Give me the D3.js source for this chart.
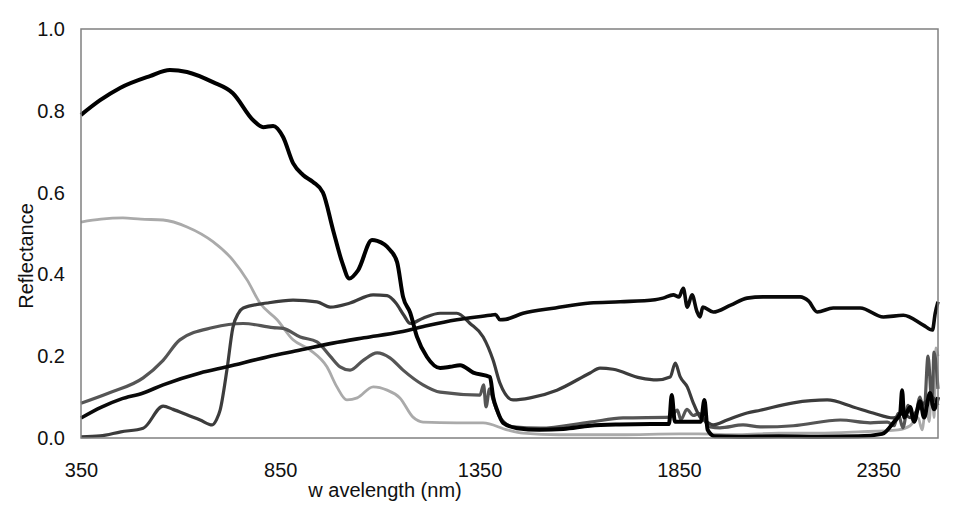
<!DOCTYPE html>
<html lang="en">
<head>
    <meta charset="UTF-8">
    <title>Reflectance spectra</title>
    <style>
      body { margin: 0; background: #fff; }
      text { font-family: "Liberation Sans", Arial, sans-serif; fill: #111; }
    </style>
</head>
<body>
    <svg></svg>
    <script src="https://d3js.org/d3.v7.min.js"></script>
    <script>
    // wavelength (nm), reflectance pairs
    const snow = [
      [350,0.79],[398,0.826],[448,0.856],[523,0.885],[573,0.90],[616,0.895],[681,0.87],[731,0.843],
      [782,0.777],[807,0.76],[832,0.763],[857,0.736],[882,0.672],[907,0.643],[932,0.626],[957,0.60],
      [982,0.51],[1005,0.43],[1023,0.39],[1045,0.41],[1080,0.484],[1093,0.482],[1125,0.46],[1143,0.43],
      [1158,0.345],[1176,0.306],[1193,0.247],[1218,0.198],[1251,0.171],[1276,0.174],[1301,0.178],
      [1334,0.16],[1376,0.149],[1384,0.10],[1394,0.068],[1409,0.037],[1444,0.024],[1500,0.02],
      [1560,0.022],[1627,0.03],[1700,0.033],[1780,0.034],[1825,0.034],[1832,0.105],[1840,0.04],
      [1905,0.04],[1914,0.093],[1922,0.02],[1940,0.004],[2000,0.003],[2100,0.004],[2200,0.003],
      [2300,0.004],[2360,0.01],[2390,0.04],[2405,0.06],[2410,0.117],[2415,0.05],[2430,0.076],
      [2440,0.04],[2455,0.09],[2465,0.05],[2480,0.11],[2490,0.07],[2500,0.1]
    ];
    const soil = [
      [350,0.049],[400,0.075],[450,0.095],[506,0.11],[556,0.13],[649,0.159],[716,0.174],[817,0.198],
      [900,0.215],[982,0.232],[1060,0.245],[1150,0.259],[1220,0.275],[1293,0.289],[1376,0.30],
      [1390,0.302],[1401,0.289],[1415,0.29],[1459,0.305],[1540,0.318],[1627,0.33],[1703,0.333],
      [1790,0.338],[1810,0.342],[1836,0.35],[1850,0.345],[1861,0.366],[1871,0.32],[1883,0.35],
      [1895,0.31],[1903,0.296],[1910,0.32],[1936,0.308],[1980,0.325],[2021,0.342],[2061,0.345],
      [2154,0.345],[2175,0.335],[2197,0.308],[2237,0.318],[2305,0.318],[2363,0.296],[2413,0.30],
      [2463,0.276],[2486,0.264],[2493,0.305],[2500,0.333]
    ];
    const lightGray = [
      [350,0.528],[400,0.535],[455,0.538],[500,0.535],[556,0.533],[616,0.516],[681,0.48],[731,0.435],
      [767,0.386],[799,0.33],[842,0.289],[882,0.24],[925,0.215],[967,0.174],[992,0.125],[1017,0.093],
      [1043,0.098],[1083,0.125],[1118,0.117],[1150,0.098],[1183,0.051],[1208,0.039],[1293,0.037],
      [1359,0.037],[1419,0.02],[1459,0.012],[1550,0.008],[1700,0.008],[1850,0.01],[1900,0.01],
      [2000,0.008],[2100,0.012],[2200,0.012],[2300,0.015],[2400,0.02],[2430,0.03],[2450,0.05],
      [2460,0.02],[2470,0.08],[2478,0.04],[2485,0.15],[2490,0.05],[2495,0.22],[2500,0.2]
    ];
    const darkGray = [
      [350,0.085],[420,0.11],[506,0.147],[556,0.19],[598,0.24],[681,0.27],[757,0.28],[832,0.27],
      [857,0.268],[900,0.247],[942,0.235],[975,0.2],[1000,0.174],[1025,0.166],[1058,0.19],[1093,0.208],
      [1125,0.196],[1158,0.166],[1208,0.13],[1251,0.112],[1351,0.105],[1360,0.13],[1366,0.076],
      [1375,0.12],[1384,0.093],[1401,0.051],[1434,0.027],[1502,0.024],[1627,0.039],[1710,0.049],
      [1828,0.051],[1846,0.068],[1855,0.045],[1870,0.07],[1886,0.055],[1900,0.06],[1928,0.027],
      [1953,0.025],[2011,0.032],[2054,0.027],[2137,0.03],[2255,0.044],[2330,0.037],[2373,0.039],
      [2390,0.03],[2400,0.06],[2412,0.025],[2425,0.08],[2440,0.04],[2455,0.1],[2465,0.06],
      [2475,0.2],[2485,0.08],[2490,0.21],[2500,0.12]
    ];
    const vegetation = [
      [350,0.003],[398,0.005],[450,0.015],[506,0.024],[556,0.078],[581,0.07],[620,0.055],[649,0.044],
      [679,0.032],[690,0.045],[699,0.068],[716,0.166],[731,0.27],[745,0.305],[757,0.318],[817,0.33],
      [882,0.337],[942,0.333],[975,0.32],[1025,0.33],[1083,0.35],[1118,0.348],[1140,0.33],[1160,0.3],
      [1176,0.28],[1208,0.293],[1251,0.305],[1293,0.305],[1326,0.28],[1359,0.247],[1384,0.19],
      [1401,0.134],[1434,0.093],[1477,0.098],[1544,0.117],[1627,0.159],[1652,0.171],[1685,0.168],
      [1753,0.147],[1795,0.142],[1828,0.149],[1841,0.183],[1853,0.15],[1871,0.125],[1886,0.086],
      [1903,0.051],[1921,0.039],[1936,0.032],[1971,0.044],[2021,0.061],[2054,0.068],[2137,0.086],
      [2222,0.093],[2287,0.076],[2337,0.061],[2388,0.049],[2413,0.06],[2430,0.05],[2450,0.07],
      [2470,0.09],[2485,0.1],[2500,0.08]
    ];

    const xTicks = [350, 850, 1350, 1850, 2350];
    const yTicks = [0, 0.2, 0.4, 0.6, 0.8, 1.0];

    const margin = { top: 29, right: 22, bottom: 72, left: 81 };
    const width = 960 - margin.left - margin.right;
    const height = 510 - margin.top - margin.bottom;

    const x = d3.scaleLinear().domain([350, 2500]).range([0, width]);
    const y = d3.scaleLinear().domain([0, 1]).range([height, 0]);

    const svg = d3.select('svg')
      .attr('width', 960)
      .attr('height', 510)
      .append('g')
      .attr('transform', `translate(${margin.left},${margin.top})`);

    const line = d3.line()
      .x(d => x(d[0]))
      .y(d => y(d[1]))
      .curve(d3.curveMonotoneX);

    const series = [
      { data: lightGray, color: '#aaaaaa', w: 2.8 },
      { data: darkGray, color: '#555555', w: 3.2 },
      { data: vegetation, color: '#3c3c3c', w: 3.2 },
      { data: soil, color: '#0a0a0a', w: 3.6 },
      { data: snow, color: '#000000', w: 4 }
    ];

    svg.selectAll('.spec')
      .data(series)
      .enter()
      .append('path')
      .attr('class', 'spec')
      .attr('d', d => line(d.data))
      .attr('fill', 'none')
      .attr('stroke', d => d.color)
      .attr('stroke-width', d => d.w)
      .attr('stroke-linejoin', 'round');

    // frame
    svg.append('rect')
      .attr('width', width)
      .attr('height', height)
      .attr('fill', 'none')
      .attr('stroke', '#808080')
      .attr('stroke-width', 1.5);

    const xAxis = svg.append('g')
      .attr('transform', `translate(0,${height})`)
      .call(d3.axisBottom(x).tickValues(xTicks).tickFormat(d3.format('d')).tickSize(0).tickPadding(25));
    xAxis.select('.domain').remove();
    xAxis.selectAll('text').style('font-size', '20px');

    const yAxis = svg.append('g')
      .call(d3.axisLeft(y).tickValues(yTicks).tickFormat(d3.format('.1f')).tickSize(0).tickPadding(16));
    yAxis.select('.domain').remove();
    yAxis.selectAll('text').style('font-size', '20px');

    svg.append('text')
      .attr('x', 385 - margin.left)
      .attr('y', 497 - margin.top)
      .attr('text-anchor', 'middle')
      .style('font-size', '20px')
      .text('w avelength (nm)');

    svg.append('text')
      .attr('transform', `translate(${33 - margin.left},${256 - margin.top}) rotate(-90)`)
      .attr('text-anchor', 'middle')
      .style('font-size', '20px')
      .text('Reflectance');
    </script>
</body>
</html>
